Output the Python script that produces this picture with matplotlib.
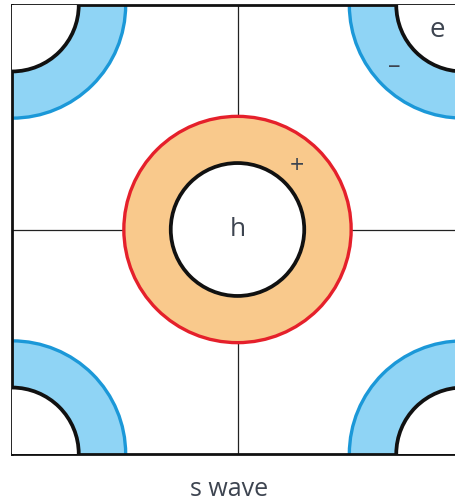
import matplotlib
matplotlib.use("Agg")
import matplotlib.pyplot as plt
from matplotlib.patches import Circle

# posicoes em unidades da rede (caixa 0..1)
eletrons_xy = [(0.0, 0.0), (1.0, 0.0), (0.0, 1.0), (1.0, 1.0)]
lacuna_xy = (0.5, 0.5)
raio_interno = 0.148
raio_externo = 0.252
rotulos = ["e", "\u2013", "+", "h"]
titulo = "s wave"

plt.rcParams["font.family"] = ["Open Sans", "DejaVu Sans"]

fig = plt.figure(figsize=(4.55, 5.04), dpi=100)
ax = fig.add_axes([12 / 455, 50 / 504, 451 / 455, 449 / 504])
ax.set_xlim(0, 1)
ax.set_ylim(0, 1)
ax.set_xticks([])
ax.set_yticks([])
for sp in ax.spines.values():
    sp.set_linewidth(2.0)
    sp.set_color("#111111")

# linhas da rede
ax.axvline(0.5, color="#222222", lw=0.9, zorder=1)
ax.axhline(0.5, color="#222222", lw=0.9, zorder=1)

# bolsoes de eletrons (azul) nos cantos
for (x, y) in eletrons_xy:
    ax.add_patch(Circle((x, y), raio_externo, facecolor="#8fd4f5",
                        edgecolor="#1b98d8", lw=2.4, zorder=2))
    ax.add_patch(Circle((x, y), raio_interno, facecolor="white",
                        edgecolor="#111111", lw=2.7, zorder=3))

# bolsao de lacunas (laranja) no centro
ax.add_patch(Circle(lacuna_xy, raio_externo, facecolor="#f9c98c",
                    edgecolor="#e5202b", lw=2.4, zorder=2))
ax.add_patch(Circle(lacuna_xy, raio_interno, facecolor="white",
                    edgecolor="#111111", lw=2.7, zorder=3))

cor_txt = "#3d4450"
ax.text(0.943, 0.945, rotulos[0], fontsize=20, color=cor_txt,
        ha="center", va="center", zorder=4)
ax.text(0.847, 0.862, rotulos[1], fontsize=18, color=cor_txt,
        ha="center", va="center", zorder=4)
ax.text(0.632, 0.641, rotulos[2], fontsize=18, color=cor_txt,
        ha="center", va="center", zorder=4)
ax.text(lacuna_xy[0], lacuna_xy[1], rotulos[3], fontsize=19, color=cor_txt,
        ha="center", va="center", zorder=4)

fig.text(229 / 455, 1 - 489 / 504, titulo, fontsize=18, color=cor_txt,
         ha="center", va="center")

fig.savefig("out.png", dpi=100)
